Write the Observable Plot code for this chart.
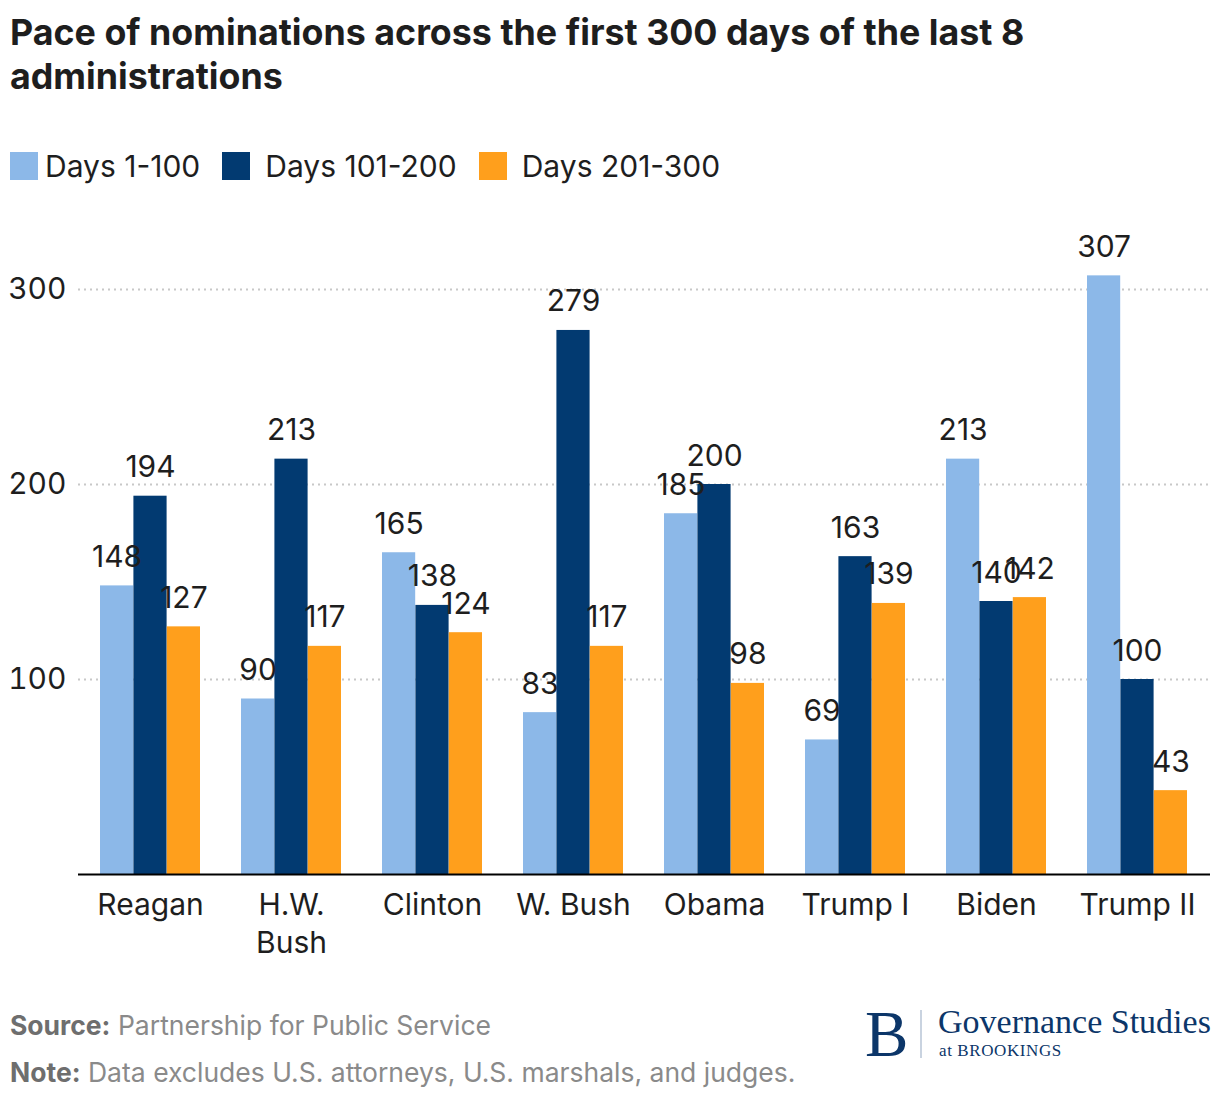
<!DOCTYPE html>
<html>
<head>
<meta charset="utf-8">
<script src="https://cdn.jsdelivr.net/npm/d3@7"></script>
<script src="https://cdn.jsdelivr.net/npm/@observablehq/plot@0.6"></script>
<style>
  body { margin: 0; background: #fff; font-family: Inter, "Noto Sans", sans-serif; width: 1220px; height: 1102px; position: relative; overflow: hidden; }
  #title { position: absolute; left: 10px; top: 10px; width: 1200px; font-size: 35.8px; font-weight: 700; line-height: 44px; color: #1e1e1e; }
  #legend { position: absolute; left: 10px; top: 152px; display: flex; align-items: center; height: 28px; }
  .sw { width: 28px; height: 28px; margin-right: 15px; flex: none; }
  .sw.first { margin-right: 7px; }
  .lt { font-size: 30px; line-height: 28px; color: #1e1e1e; margin-right: 22px; white-space: nowrap; }
  #chart { position: absolute; left: 0; top: 200px; }
  .foot { position: absolute; left: 10px; font-size: 26.5px; line-height: 28px; color: #8a8a8a; white-space: nowrap; }
  .foot b { color: #6e6e6e; font-weight: 700; }
  #logoB { position: absolute; left: 865px; top: 994px; font-family: "Liberation Serif", "DejaVu Serif", serif; font-size: 65px; line-height: 80px; color: #0c3669; }
  #logoBar { position: absolute; left: 920px; top: 1010px; width: 1.5px; height: 48px; background: #c9d3e0; }
  #logoG { position: absolute; left: 938px; top: 1002px; font-family: "Liberation Serif", "DejaVu Serif", serif; font-size: 34px; line-height: 40px; color: #0c3669; white-space: nowrap; }
  #logoA { position: absolute; left: 939px; top: 1040px; font-family: "Liberation Serif", "DejaVu Serif", serif; font-size: 17px; line-height: 22px; letter-spacing: 0.6px; color: #0c3669; white-space: nowrap; }
</style>
</head>
<body>
<div id="title">Pace of nominations across the first 300 days of the last 8 administrations</div>
<div id="legend"></div>
<div id="chart"></div>
<div class="foot" id="source" style="top:1011px"><b>Source:</b> Partnership for Public Service</div>
<div class="foot" id="note" style="top:1058px"><b>Note:</b> Data excludes U.S. attorneys, U.S. marshals, and judges.</div>
<div id="logoB">B</div>
<div id="logoBar"></div>
<div id="logoG">Governance Studies</div>
<div id="logoA">at BROOKINGS</div>
<script>
const administrations = ["Reagan", "H.W. Bush", "Clinton", "W. Bush", "Obama", "Trump I", "Biden", "Trump II"];
const periods = ["Days 1-100", "Days 101-200", "Days 201-300"];
const days1to100 = [148, 90, 165, 83, 185, 69, 213, 307];
const days101to200 = [194, 213, 138, 279, 200, 163, 140, 100];
const days201to300 = [127, 117, 124, 117, 98, 139, 142, 43];
const yTicks = [100, 200, 300];
const colors = ["#8cb8e8", "#023a71", "#ff9f1c"];

const series = [days1to100, days101to200, days201to300];
const rows = [];
administrations.forEach((admin, i) => {
  periods.forEach((period, j) => {
    rows.push({admin, period, value: series[j][i]});
  });
});

// Legend
const legend = document.getElementById("legend");
periods.forEach((p, i) => {
  const sw = document.createElement("div");
  sw.className = i === 0 ? "sw first" : "sw";
  sw.style.background = colors[i];
  const t = document.createElement("div");
  t.className = "lt";
  t.textContent = p;
  legend.appendChild(sw);
  legend.appendChild(t);
});

const W = 1220, H = 780, mL = 78, mR = 10, mT = 89, mB = 106;
const padIn = 0.29, padOut = 0.155;
// sub-band width for grouped bars, derived from the same band layout Plot uses
const bw = d3.scaleBand().domain(administrations).range([mL, W - mR]).paddingInner(padIn).paddingOuter(padOut).bandwidth();
const sub = bw / periods.length;

const textColor = "#1e1e1e";
const fs = 30;
const groupMarks = periods.map((p, j) => {
  const data = rows.filter(d => d.period === p);
  return Plot.barY(data, {x: "admin", y: "value", fill: "period", insetLeft: j * sub, insetRight: (periods.length - 1 - j) * sub});
});
const labelMarks = periods.map((p, j) => {
  const data = rows.filter(d => d.period === p);
  return Plot.text(data, {x: "admin", y: "value", text: d => String(d.value), dx: (j - (periods.length - 1) / 2) * sub, dy: -19, lineAnchor: "bottom", fill: textColor, fontSize: fs});
});

const chart = Plot.plot({
  width: W,
  height: H,
  marginLeft: mL,
  marginRight: mR,
  marginTop: mT,
  marginBottom: mB,
  style: {fontFamily: "Inter, 'Noto Sans', sans-serif", fontSize: fs + "px", color: textColor, background: "transparent", overflow: "visible"},
  x: {domain: administrations, paddingInner: padIn, paddingOuter: padOut, label: null, axis: null},
  y: {domain: [0, 300], axis: null},
  color: {domain: periods, range: colors},
  marks: [
    Plot.ruleY(yTicks, {stroke: "#c8c8c8", strokeWidth: 2, strokeDasharray: "2,4"}),
    ...groupMarks,
    ...labelMarks,
    Plot.ruleY([0], {stroke: "#000", strokeWidth: 2}),
    Plot.axisY(yTicks, {anchor: "left", tickSize: 0, tickPadding: 12, fontSize: fs, label: null, fill: textColor}),
    Plot.axisX({anchor: "bottom", tickSize: 0, tickPadding: 14, fontSize: fs, lineHeight: 1.26, label: null, fill: textColor,
      tickFormat: d => d === "H.W. Bush" ? "H.W.\nBush" : d})
  ]
});
document.getElementById("chart").appendChild(chart);
</script>
</body>
</html>
